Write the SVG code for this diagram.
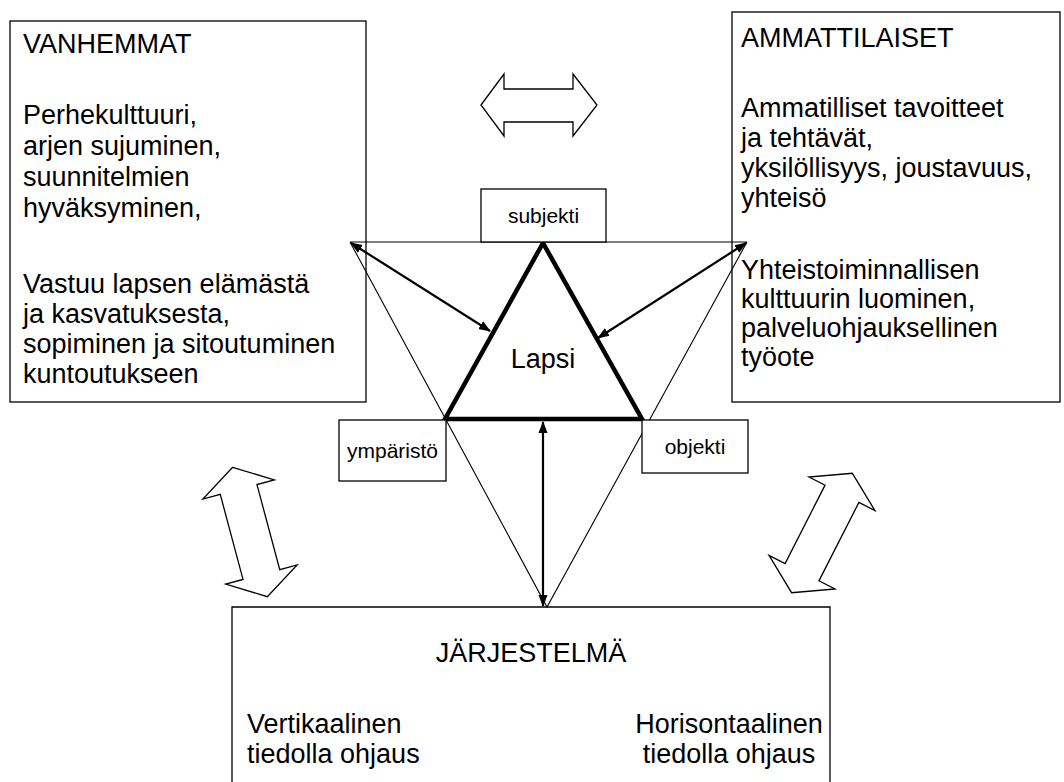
<svg xmlns="http://www.w3.org/2000/svg" width="1064" height="782" viewBox="0 0 1064 782">
  <style>
    .box { fill: #ffffff; stroke: #000000; stroke-width: 1.3; }
    .txt { font-family: "Liberation Sans", Arial, sans-serif; font-size: 27px; fill: #000000; }
    .lbl { font-family: "Liberation Sans", Arial, sans-serif; font-size: 21px; fill: #000000; text-anchor: middle; }
    .thin { fill: none; stroke: #000000; stroke-width: 1.1; }
    .link { fill: none; stroke: #000000; stroke-width: 2.2; marker-start: url(#head); marker-end: url(#head); }
    .bold { fill: none; stroke: #000000; stroke-width: 4.5; stroke-linejoin: miter; }
    .block { fill: #ffffff; stroke: #000000; stroke-width: 1.3; stroke-linejoin: miter; }
  </style>
  <defs>
    <marker id="head" viewBox="0 0 12 10" refX="11" refY="5" markerWidth="12" markerHeight="10" markerUnits="userSpaceOnUse" orient="auto-start-reverse">
      <path d="M0,0.5 L12,5 L0,9.5 z" fill="#000000"/>
    </marker>
    <!-- hollow two-way arrow, drawn vertically around its centre -->
    <polygon id="twoway" points="0,-67 37,-44 19,-44 19,44 37,44 0,67 -37,44 -19,44 -19,-44 -37,-44"/>
  </defs>
  <rect width="1064" height="782" fill="#ffffff"/>

  <!-- parents -->
  <g id="vanhemmat">
    <rect class="box" x="10" y="21" width="356" height="381"/>
    <text class="txt" x="23" y="53">VANHEMMAT</text>
    <text class="txt" x="23" y="124">Perhekulttuuri,</text>
    <text class="txt" x="23" y="155">arjen sujuminen,</text>
    <text class="txt" x="23" y="186">suunnitelmien</text>
    <text class="txt" x="23" y="217">hyväksyminen,</text>
    <text class="txt" x="23" y="293">Vastuu lapsen elämästä</text>
    <text class="txt" x="23" y="323">ja kasvatuksesta,</text>
    <text class="txt" x="23" y="353">sopiminen ja sitoutuminen</text>
    <text class="txt" x="23" y="383">kuntoutukseen</text>
  </g>

  <!-- professionals -->
  <g id="ammattilaiset">
    <rect class="box" x="732" y="12" width="328" height="390"/>
    <text class="txt" x="741" y="47">AMMATTILAISET</text>
    <text class="txt" x="741" y="117">Ammatilliset tavoitteet</text>
    <text class="txt" x="741" y="147">ja tehtävät,</text>
    <text class="txt" x="741" y="177">yksilöllisyys, joustavuus,</text>
    <text class="txt" x="741" y="207">yhteisö</text>
    <text class="txt" x="741" y="279">Yhteistoiminnallisen</text>
    <text class="txt" x="741" y="308">kulttuurin luominen,</text>
    <text class="txt" x="741" y="337">palveluohjauksellinen</text>
    <text class="txt" x="741" y="366">työote</text>
  </g>

  <!-- system -->
  <g id="jarjestelma">
    <path class="box" d="M232,790 L232,607 L830,607 L830,790"/>
    <text class="txt" x="531" y="662" text-anchor="middle">JÄRJESTELMÄ</text>
    <text class="txt" x="247" y="733">Vertikaalinen</text>
    <text class="txt" x="247" y="763">tiedolla ohjaus</text>
    <text class="txt" x="729" y="733" text-anchor="middle">Horisontaalinen</text>
    <text class="txt" x="729" y="763" text-anchor="middle">tiedolla ohjaus</text>
  </g>

  <!-- frame triangle -->
  <g id="kehys">
    <polyline class="thin" points="350,242 747,242"/>
    <polyline class="thin" points="350,242 547,607 747,242"/>
  </g>

  <!-- child -->
  <g id="lapsi">
    <polygon class="bold" points="543,243 642,419 445,419"/>
    <text class="txt" x="543" y="368" text-anchor="middle">Lapsi</text>
  </g>

  <g id="subjekti">
    <rect class="box" x="481" y="189" width="125" height="53"/>
    <text class="lbl" x="543.5" y="223">subjekti</text>
  </g>
  <g id="ymparisto">
    <rect class="box" x="339" y="420" width="107" height="61"/>
    <text class="lbl" x="392.5" y="458">ympäristö</text>
  </g>
  <g id="objekti">
    <rect class="box" x="642" y="420" width="106" height="53"/>
    <text class="lbl" x="695" y="454">objekti</text>
  </g>

  <!-- connectors -->
  <g id="yhteydet">
    <line class="link" x1="351" y1="243" x2="490" y2="331"/>
    <line class="link" x1="746" y1="243" x2="598" y2="338"/>
    <line class="link" x1="543" y1="422" x2="543" y2="606"/>
    <polygon class="block" points="481,105 504,74 504,89 573,89 573,74 597,105 573,136 573,122 504,122 504,136"/>
    <use href="#twoway" class="block" transform="translate(250,532) rotate(-15)"/>
    <use href="#twoway" class="block" transform="translate(822,533) rotate(27)"/>
  </g>
</svg>
